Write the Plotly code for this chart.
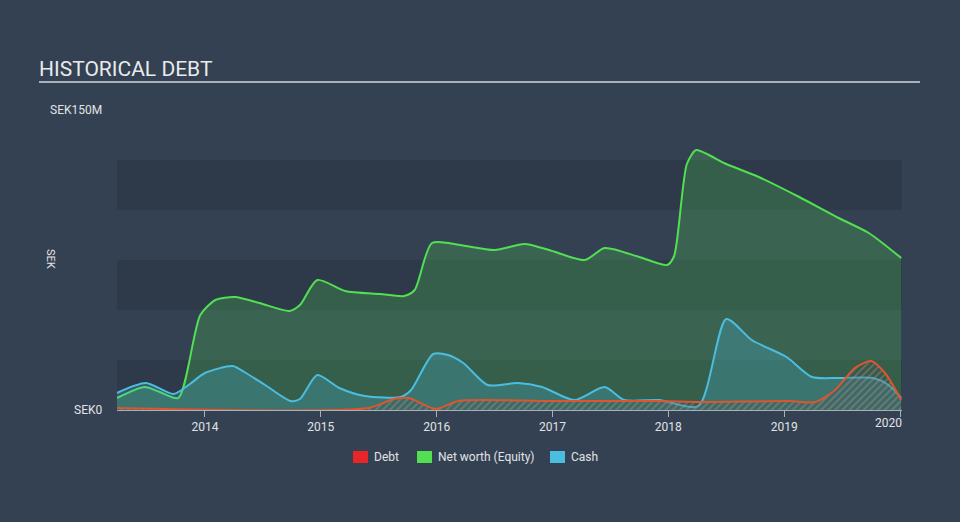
import plotly.graph_objects as go

# ---- data (years as decimal, values in SEK millions) ----
equity_x = [2013.24, 2013.48, 2013.61, 2013.77, 2013.96, 2014.09, 2014.26, 2014.47, 2014.73, 2014.82,
            2014.97, 2015.21, 2015.51, 2015.72, 2015.81, 2015.96, 2016.20, 2016.50, 2016.76, 2016.97,
            2017.28, 2017.45, 2017.75, 2017.99, 2018.05, 2018.16, 2018.24, 2018.35, 2018.48, 2018.78,
            2019.13, 2019.47, 2019.73, 2020.01]
equity_y = [6, 11.5, 9, 6, 47.5, 55, 56.5, 53.5, 49.5, 52.5,
            65, 59.5, 58, 57, 60, 83.5, 82.5, 80, 83, 80,
            75, 81, 76.5, 72.5, 77, 123, 130, 127.5, 123.5, 116.5,
            106.5, 96, 88.5, 76]

cash_x = [2013.24, 2013.49, 2013.73, 2013.87, 2014.0, 2014.24, 2014.34, 2014.52, 2014.74, 2014.82,
          2014.97, 2015.16, 2015.38, 2015.69, 2015.78, 2015.97, 2016.10, 2016.23, 2016.44, 2016.70,
          2016.91, 2017.19, 2017.45, 2017.62, 2017.92, 2018.26, 2018.50, 2018.72, 2019.02, 2019.24,
          2019.47, 2019.77, 2019.90, 2020.01]
cash_y = [8.5, 13.5, 8, 13, 18.5, 22, 19, 12.5, 4.5, 5.5,
          17.5, 11, 7, 6.5, 10, 28, 27.5, 23.5, 12.5, 13.5,
          11.5, 5, 11.5, 5, 5, 2, 45.5, 35, 26.5, 16.5,
          16, 16, 12.5, 6]

debt_x = [2013.24, 2015.41, 2015.63, 2015.76, 2015.99, 2016.19, 2016.97, 2017.92, 2018.27, 2019.04,
          2019.27, 2019.44, 2019.61, 2019.75, 2019.87, 2020.01]
debt_y = [1, 1, 5.5, 6, 0.5, 4.5, 4.5, 4.5, 4, 4.5,
          4, 10, 21, 24.5, 18.5, 5]

year_ticks = [2014, 2015, 2016, 2017, 2018, 2019, 2020]
year_labels = ["2014", "2015", "2016", "2017", "2018", "2019", ""]
last_label = "2020"

legend_names = ["Debt", "Net worth (Equity)", "Cash"]
legend_colors = ["#e8262a", "#52e052", "#4bbde0"]

BG = "#344152"
BAND = "#2e3a4a"
GREEN = "#52e052"
BLUE = "#4bbde0"
RED = "#e0542e"
TXT = "#e0e3e6"

fig = go.Figure()

fig.add_trace(go.Scatter(x=equity_x, y=equity_y, mode="lines", fill="tozeroy",
                         line=dict(color=GREEN, width=2, shape="spline", smoothing=0.7),
                         fillcolor="rgba(82,224,82,0.22)", showlegend=False, hoverinfo="skip"))
fig.add_trace(go.Scatter(x=cash_x, y=cash_y, mode="lines", fill="tozeroy",
                         line=dict(color=BLUE, width=2, shape="spline", smoothing=0.7),
                         fillcolor="rgba(75,189,224,0.25)", showlegend=False, hoverinfo="skip"))
fig.add_trace(go.Scatter(x=debt_x, y=debt_y, mode="lines", fill="tozeroy",
                         line=dict(color=RED, width=2, shape="spline", smoothing=0.7),
                         fillcolor="rgba(0,0,0,0)",
                         fillpattern=dict(shape="/", fgcolor="rgba(200,150,130,0.75)",
                                          bgcolor="rgba(60,70,80,0.25)", size=5, solidity=0.35),
                         showlegend=False, hoverinfo="skip"))

W, L = 785.0, 117.0
H, B = 300.0, 410.0


def px(x):
    return (x - L) / W


def py(y):
    return (B - y) / H


# background bands
shapes = []
for lo, hi in [(0, 25), (50, 75), (100, 125)]:
    shapes.append(dict(type="rect", xref="paper", yref="y", x0=0, x1=1, y0=lo, y1=hi,
                       fillcolor=BAND, line=dict(width=0), layer="below"))
# title underline
shapes.append(dict(type="line", xref="paper", yref="paper", x0=px(39), x1=px(920),
                   y0=py(82), y1=py(82), line=dict(color="#a9b0b8", width=2)))

annotations = [
    dict(text="HISTORICAL DEBT", xref="paper", yref="paper", x=px(37), y=py(69),
         xanchor="left", yanchor="middle", showarrow=False,
         font=dict(size=21, color="#e8eaec")),
    dict(text="SEK150M", xref="paper", yref="y", x=px(104), y=150, xanchor="right",
         yanchor="middle", showarrow=False, font=dict(size=12, color=TXT)),
    dict(text="SEK0", xref="paper", yref="y", x=px(104), y=0, xanchor="right",
         yanchor="middle", showarrow=False, font=dict(size=12, color=TXT)),
    dict(text="SEK", xref="paper", yref="paper", x=px(51), y=py(259), xanchor="center",
         yanchor="middle", showarrow=False, textangle=90, font=dict(size=11, color=TXT)),
    dict(text=last_label, xref="paper", yref="paper", x=px(904), y=py(423), xanchor="right",
         yanchor="middle", showarrow=False, font=dict(size=12, color=TXT)),
]

# manual legend
sq_left = [353, 417, 550]
for name, col, sx in zip(legend_names, legend_colors, sq_left):
    shapes.append(dict(type="rect", xref="paper", yref="paper", x0=px(sx), x1=px(sx + 15),
                       y0=py(463), y1=py(451), fillcolor=col, line=dict(width=0)))
    annotations.append(dict(text=name, xref="paper", yref="paper", x=px(sx + 19), y=py(457),
                            xanchor="left", yanchor="middle", showarrow=False,
                            font=dict(size=12, color=TXT)))

fig.update_layout(
    width=960, height=522,
    paper_bgcolor=BG, plot_bgcolor=BG,
    margin=dict(l=117, r=58, t=110, b=112),
    font=dict(family="Roboto, sans-serif", color=TXT, size=12),
    shapes=shapes,
    showlegend=False,
    xaxis=dict(range=[2013.241, 2020.017], tickvals=year_ticks, ticktext=year_labels,
               showgrid=False, zeroline=False, showline=True, linecolor="#a9b0b8", linewidth=1,
               ticks="outside", ticklen=6, tickcolor="#a9b0b8",
               tickfont=dict(size=12, color=TXT)),
    yaxis=dict(range=[0, 150], showgrid=False, zeroline=False, showticklabels=False,
               showline=False),
    annotations=annotations,
)

fig.write_html("out.html")
